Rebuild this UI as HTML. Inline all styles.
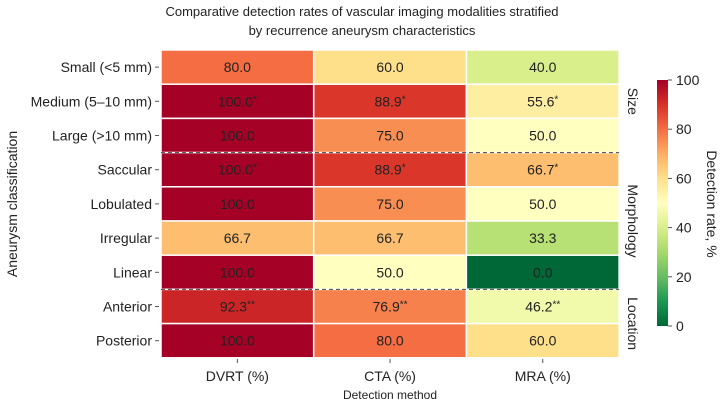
<!DOCTYPE html>
<html><head><meta charset="utf-8"><style>
body{margin:0;background:#fff;font-family:"Liberation Sans",Arial,sans-serif}
svg text{font-family:"Liberation Sans",Arial,sans-serif;fill:#222}
</style></head><body>
<svg id="chart" width="724" height="404">
<text x="362" y="16" font-size="13" text-anchor="middle">Comparative detection rates of vascular imaging modalities stratified</text>
<text x="362" y="35" font-size="13" text-anchor="middle">by recurrence aneurysm characteristics</text>
<g id="cells"></g>
<g id="ylabels"></g>
<g id="xlabels"></g>
<g id="cbar"></g>
<text x="390" y="399" font-size="12" text-anchor="middle">Detection method</text>
<text transform="translate(17,204) rotate(-90)" font-size="14" text-anchor="middle">Aneurysm classification</text>
<text transform="translate(707,204) rotate(90)" font-size="14" text-anchor="middle">Detection rate, %</text>
</svg>
<script>
const rows=["Small (<5 mm)","Medium (5–10 mm)","Large (>10 mm)","Saccular","Lobulated","Irregular","Linear","Anterior","Posterior"];
const methods=["DVRT (%)","CTA (%)","MRA (%)"];
const dvrt=[80.0,100.0,100.0,100.0,100.0,66.7,100.0,92.3,100.0];
const cta=[60.0,88.9,75.0,88.9,75.0,66.7,50.0,76.9,80.0];
const mra=[40.0,55.6,50.0,66.7,50.0,33.3,0.0,46.2,60.0];
const marks=[["","",""],["*","*","*"],["","",""],["*","*","*"],["","",""],["","",""],["","",""],["**","**","**"],["","",""]];
const groups=[{name:"Size",start:0,end:2},{name:"Morphology",start:3,end:6},{name:"Location",start:7,end:8}];
const cbTicks=[0,20,40,60,80,100];
const NS="http://www.w3.org/2000/svg";
const X0=161,Y0=50,CW=152.7,RH=34.2;
const cmap=["#006837","#1a9850","#66bd63","#a6d96a","#d9ef8b","#ffffbf","#fee08b","#fdae61","#f46d43","#d73027","#a50026"];
function hex(h){return [1,3,5].map(i=>parseInt(h.substr(i,2),16));}
function color(v){const t=Math.max(0,Math.min(1,v/100))*10;const i=Math.min(9,Math.floor(t));const f=t-i;const a=hex(cmap[i]),b=hex(cmap[i+1]);return "rgb("+a.map((c,k)=>Math.round(c+(b[k]-c)*f)).join(",")+")";}
function xS(j){return X0+j*CW;}
function yS(i){return Y0+i*RH;}
function el(tag,attrs,parent){const e=document.createElementNS(NS,tag);for(const k in attrs)e.setAttribute(k,attrs[k]);parent.appendChild(e);return e;}
const series=[dvrt,cta,mra];
const cells=document.getElementById("cells");
series.forEach((s,j)=>s.forEach((v,i)=>{
 const r=el("rect",{x:xS(j),y:yS(i),width:CW,height:RH,fill:color(v),stroke:"#fff","stroke-width":1.5},cells);
 
 
 const t=el("text",{x:xS(j)+CW/2,y:yS(i)+RH/2+5,"font-size":14,"text-anchor":"middle"},cells);
 t.textContent=v.toFixed(1);
 if(marks[i][j]){const sp=el("tspan",{"font-size":10,dy:-4},t);sp.textContent=marks[i][j];}
 
 
}));
groups.slice(0,-1).forEach(g=>{
 const l=el("line",{x1:X0,x2:X0+3*CW,y1:yS(g.end+1),y2:yS(g.end+1),stroke:"#444","stroke-dasharray":"4,3","stroke-width":1},cells);
 
 
});
groups.forEach(g=>{
 const cy=(yS(g.start)+yS(g.end+1))/2;
 const t=el("text",{transform:"translate(628,"+cy+") rotate(90)","font-size":14,"text-anchor":"middle"},cells);
 t.textContent=g.name;
 
 
});
const yl=document.getElementById("ylabels");
rows.forEach((r,i)=>{
 const t=el("text",{x:152,y:yS(i)+RH/2+5,"font-size":14,"text-anchor":"end"},yl);
 t.textContent=r;
 
 
 el("line",{x1:155,x2:159,y1:yS(i)+RH/2,y2:yS(i)+RH/2,stroke:"#555"},yl);
});
const xl=document.getElementById("xlabels");
methods.forEach((m,j)=>{
 const t=el("text",{x:xS(j)+CW/2,y:381,"font-size":14,"text-anchor":"middle"},xl);
 t.textContent=m;
 
 
 el("line",{x1:xS(j)+CW/2,x2:xS(j)+CW/2,y1:359,y2:363,stroke:"#555"},xl);
});
const cb=document.getElementById("cbar");
const CBX=657,CBT=80,CBB=326,CBW=11;
const defs=el("defs",{},cb);
const grad=el("linearGradient",{id:"cg",x1:0,y1:1,x2:0,y2:0},defs);
cmap.forEach((c,k)=>el("stop",{offset:(k/10),"stop-color":c},grad));
const bar=el("rect",{x:CBX,y:CBT,width:CBW,height:CBB-CBT,fill:"url(#cg)"},cb);


cbTicks.forEach(v=>{
 const y=CBB-(v/100)*(CBB-CBT);
 el("line",{x1:CBX+CBW,x2:CBX+CBW+4,y1:y,y2:y,stroke:"#555"},cb);
 const t=el("text",{x:CBX+CBW+8,y:y+5,"font-size":14},cb);
 t.textContent=v;
 
 
});
</script>
</body></html>
